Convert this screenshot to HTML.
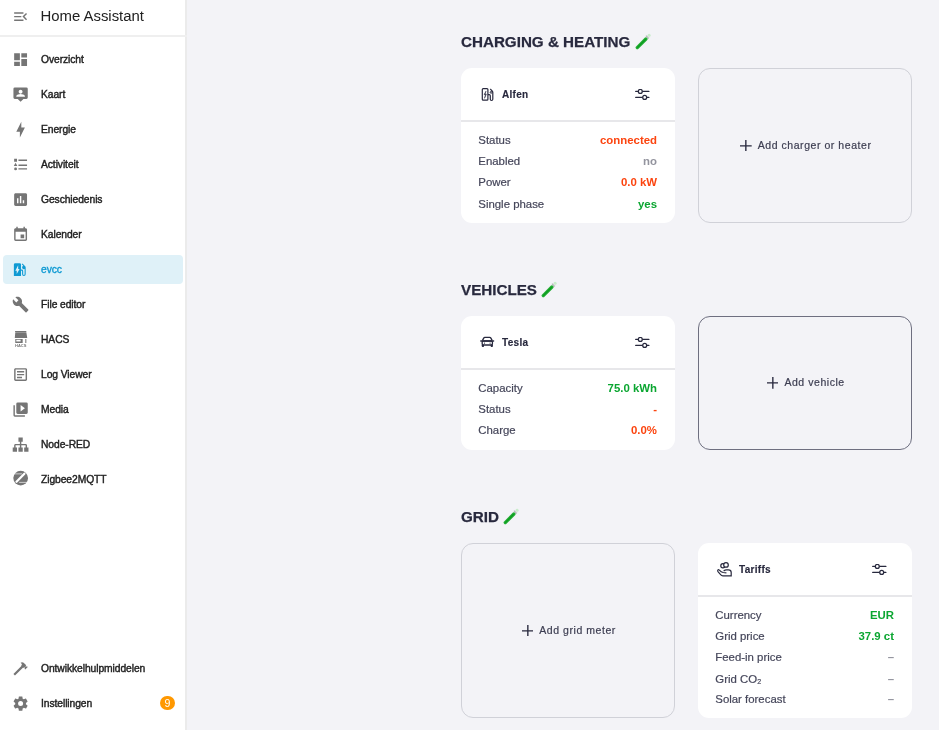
<!DOCTYPE html>
<html><head><meta charset="utf-8"><title>evcc - Home Assistant</title>
<style>
*{box-sizing:border-box;margin:0;padding:0}
html,body{width:939px;height:730px;overflow:hidden;background:#f3f3f7;font-family:"Liberation Sans",Arial,sans-serif}
#sb{position:absolute;left:0;top:0;width:187px;height:730px;background:#fff;border-right:2px solid #ebebeb}
#hdr{position:absolute;left:0;top:0;width:187px;height:37px;border-bottom:2px solid #efefef}
#hdr .t{position:absolute;left:40.5px;top:6px;font-size:14.9px;line-height:20px;color:#212121;white-space:nowrap}
.mi{position:absolute;left:0;width:185px;height:28px}
.mi svg{position:absolute;left:11.7px;top:5.4px;width:17.2px;height:17.2px;fill:#757575}
.mi span{position:absolute;left:41px;top:7.75px;font-size:10.3px;letter-spacing:-0.08px;line-height:14px;color:#222;white-space:nowrap;-webkit-text-stroke:0.4px #222}
.mi.sel{left:3px;width:180px;background:#dff1f8;border-radius:4px}
.mi.sel svg{left:8.2px;top:6.4px;fill:#0f9ad3}
.mi.sel span{left:38px;top:8.2px;color:#0f9ad3;-webkit-text-stroke:0.35px #0f9ad3}
.badge{position:absolute;left:160px;top:695.6px;width:14.8px;height:14.8px;border-radius:50%;background:#ff9800;color:#fff;font-size:10.6px;line-height:15px;text-align:center}

.h{position:absolute;left:461px;font-size:15.2px;font-weight:bold;color:#28293e;white-space:nowrap;line-height:18px;-webkit-text-stroke:0.25px #28293e}
.tube{position:absolute;top:0px;margin-left:4.8px}
.card{position:absolute;background:#fff;border-radius:11px;width:214px}
.card .ch{position:absolute;left:0;top:0;width:100%;height:54px !important;border-bottom:2px solid #e7e7ea}
.card .ico{position:absolute;left:19px;width:14px;height:14px}
.card .nm{position:absolute;left:41px;font-size:10px;letter-spacing:0.3px;font-weight:bold;color:#28293e;line-height:14px;-webkit-text-stroke:0.15px #28293e}
.card .sl{position:absolute;left:174px;width:15px;height:12px}
.row{position:absolute;left:17.3px;right:18px;height:14px;font-size:11.4px;line-height:14px;color:#45465a;-webkit-text-stroke:0.2px #45465a}
.row b{-webkit-text-stroke:0}
.row b{position:absolute;right:0;top:0;font-weight:bold}
.red{color:#fc440f}.grn{color:#0ba631}.gry{color:#93949e}
.add{position:absolute;border:1px solid #d0d1d8;border-radius:12px;width:214px}
.add.dk{border-color:#6e6f80}
.add .lbl{position:absolute;left:1.5px;right:0;top:50%;margin-top:-8.8px;text-align:center;font-size:10.5px;letter-spacing:0.55px;line-height:16px;color:#3c3d51;white-space:nowrap;-webkit-text-stroke:0.2px #3c3d51}
.add .lbl svg{display:inline-block;vertical-align:top;margin-top:2.8px;margin-right:6px;width:11.7px;height:11.7px}
</style></head><body>
<div id="sb">
  <div id="hdr">
    <svg style="position:absolute;left:11.8px;top:7.9px;width:17.2px;height:17.2px;fill:#757575" viewBox="0 0 24 24"><path d="M21,15.61L19.59,17L14.58,12L19.59,7L21,8.39L17.44,12L21,15.61M3,6H16V8H3V6M3,13V11H13V13H3M3,18V16H16V18H3Z"/></svg>
    <div class="t">Home Assistant</div>
  </div>
  <!-- items -->
  <div class="mi" style="top:45.5px"><svg viewBox="0 0 24 24"><path d="M13,3V9H21V3M13,21H21V11H13M3,21H11V15H3M3,13H11V3H3V13Z"/></svg><span>Overzicht</span></div>
  <div class="mi" style="top:80.5px"><svg viewBox="0 0 24 24"><path d="M20,2H4A2,2 0 0,0 2,4V16A2,2 0 0,0 4,18H8L12,22L16,18H20A2,2 0 0,0 22,16V4A2,2 0 0,0 20,2M12,5.3C13.5,5.3 14.7,6.5 14.7,8C14.7,9.5 13.5,10.7 12,10.7C10.5,10.7 9.3,9.5 9.3,8C9.3,6.5 10.5,5.3 12,5.3M18,15H6V14.1C6,12.1 10,11 12,11C14,11 18,12.1 18,14.1V15Z"/></svg><span>Kaart</span></div>
  <div class="mi" style="top:115.5px"><svg viewBox="0 0 24 24"><path d="M11 15H6L13 1V9H18L11 23V15Z"/></svg><span>Energie</span></div>
  <div class="mi" style="top:150.5px"><svg viewBox="0 0 24 24"><path d="M5,9.5L7.5,14H2.5L5,9.5M3,4H7V8H3V4M5,20A2,2 0 0,0 7,18A2,2 0 0,0 5,16A2,2 0 0,0 3,18A2,2 0 0,0 5,20M9,5V7H21V5H9M9,19H21V17H9V19M9,14H21V12H9V14Z"/></svg><span>Activiteit</span></div>
  <div class="mi" style="top:185.5px"><svg viewBox="0 0 24 24"><path d="M9 17H7V10H9V17M13 17H11V7H13V17M17 17H15V13H17V17M19 3H5C3.9 3 3 3.9 3 5V19C3 20.1 3.9 21 5 21H19C20.1 21 21 20.1 21 19V5C21 3.9 20.1 3 19 3Z"/></svg><span>Geschiedenis</span></div>
  <div class="mi" style="top:220.5px"><svg viewBox="0 0 24 24"><path d="M19,19H5V8H19M16,1V3H8V1H6V3H5C3.89,3 3,3.89 3,5V19A2,2 0 0,0 5,21H19A2,2 0 0,0 21,19V5C21,3.89 20.1,3 19,3H18V1M17,12H12V17H17V12Z"/></svg><span>Kalender</span></div>
  <div class="mi sel" style="top:254.5px;height:29px"><svg viewBox="0 0 24 24"><path d="M19.77,7.23L19.78,7.22L16.06,3.5L15,4.56L17.11,6.67C16.17,7.03 15.5,7.93 15.5,9A2.5,2.5 0 0,0 18,11.5C18.36,11.5 18.69,11.42 19,11.29V18.5A1,1 0 0,1 18,19.5A1,1 0 0,1 17,18.5V14A2,2 0 0,0 15,12H14V5A2,2 0 0,0 12,3H6A2,2 0 0,0 4,5V21H14V13.5H15.5V18.5A2.5,2.5 0 0,0 18,21A2.5,2.5 0 0,0 20.5,18.5V9C20.5,8.31 20.22,7.68 19.77,7.23M8,18V13.5H6L10,6V11H12L8,18Z"/></svg><span>evcc</span></div>
  <div class="mi" style="top:290.5px"><svg viewBox="0 0 24 24"><path d="M22.7,19L13.6,9.9C14.5,7.6 14,4.9 12.1,3C10.1,1 7.1,0.6 4.7,1.7L9,6L6,9L1.6,4.7C0.4,7.1 0.9,10.1 2.9,12.1C4.8,14 7.5,14.5 9.8,13.6L18.9,22.7C19.3,23.1 19.9,23.1 20.3,22.7L22.6,20.4C23.1,20 23.1,19.3 22.7,19Z"/></svg><span>File editor</span></div>
  <div class="mi" style="top:325.5px"><svg viewBox="0 0 24 24"><path fill-rule="evenodd" d="M4.3,0H20V1.4H4.3Z M4.6,1.7H20L21.3,9.6H3.9Z M4.6,11H14.9V16.7H4.6Z M6,12.1V14.8H12V12.1Z M18.6,11H20V16.7H18.6Z"/><text x="12.1" y="22.2" font-size="5.3" font-weight="bold" text-anchor="middle" textLength="15.8" lengthAdjust="spacingAndGlyphs" font-family="Liberation Sans, sans-serif" fill="#757575">HACS</text></svg><span>HACS</span></div>
  <div class="mi" style="top:360.5px"><svg viewBox="0 0 24 24"><path d="M5,3C3.89,3 3,3.89 3,5V19C3,20.11 3.89,21 5,21H19C20.11,21 21,20.11 21,19V5C21,3.89 20.11,3 19,3H5M5,5H19V19H5V5M7,7V9H17V7H7M7,11V13H17V11H7M7,15V17H14V15H7Z"/></svg><span>Log Viewer</span></div>
  <div class="mi" style="top:395.5px"><svg viewBox="0 0 24 24"><path d="M4,6H2V20A2,2 0 0,0 4,22H18V20H4M20,2H8A2,2 0 0,0 6,4V16A2,2 0 0,0 8,18H20A2,2 0 0,0 22,16V4A2,2 0 0,0 20,2M12,14.5V5.5L18,10"/></svg><span>Media</span></div>
  <div class="mi" style="top:430.5px"><svg viewBox="0 0 24 24"><path d="M9,2V8H11V11H5C3.89,11 3,11.89 3,13V16H1V22H7V16H5V13H11V16H9V22H15V16H13V13H19V16H17V22H23V16H21V13C21,11.89 20.11,11 19,11H13V8H15V2H9Z"/></svg><span>Node-RED</span></div>
  <div class="mi" style="top:465px"><svg viewBox="0 0 24 24"><circle cx="12.1" cy="11.3" r="10.3"/><path d="M6.3,16.4 L17.3,5.3" stroke="#fff" stroke-width="3.2" stroke-linecap="round"/><path d="M1,5.4 H14 M10,17.3 H23" stroke="#fff" stroke-width="0.9"/></svg><span>Zigbee2MQTT</span></div>

  <div class="mi" style="top:654.5px"><svg viewBox="0 0 24 24"><path d="M2 19.63L13.43 8.2L12.72 7.5L14.14 6.07L12 3.89C13.2 2.7 15.09 2.7 16.27 3.89L19.87 7.5L18.45 8.91H21.29L22 9.62L18.45 13.21L17.74 12.5V9.62L16.27 11.04L15.56 10.33L4.13 21.76L2 19.63Z"/></svg><span>Ontwikkelhulpmiddelen</span></div>
  <div class="mi" style="top:689.5px"><svg viewBox="0 0 24 24"><path d="M12,15.5A3.5,3.5 0 0,1 8.5,12A3.5,3.5 0 0,1 12,8.5A3.5,3.5 0 0,1 15.5,12A3.5,3.5 0 0,1 12,15.5M19.43,12.97C19.47,12.65 19.5,12.33 19.5,12C19.5,11.67 19.47,11.34 19.43,11L21.54,9.37C21.73,9.22 21.78,8.95 21.66,8.73L19.66,5.27C19.54,5.05 19.27,4.96 19.050,5.05L16.56,6.05C16.04,5.66 15.5,5.32 14.87,5.07L14.5,2.42C14.46,2.18 14.25,2 14,2H10C9.75,2 9.54,2.18 9.5,2.42L9.13,5.07C8.5,5.32 7.96,5.66 7.44,6.05L4.95,5.05C4.73,4.96 4.46,5.05 4.34,5.27L2.34,8.73C2.21,8.95 2.27,9.22 2.46,9.37L4.57,11C4.53,11.34 4.5,11.67 4.5,12C4.5,12.33 4.53,12.65 4.57,12.97L2.46,14.63C2.27,14.78 2.21,15.05 2.34,15.27L4.34,18.73C4.46,18.95 4.73,19.03 4.95,18.95L7.44,17.94C7.96,18.34 8.5,18.68 9.13,18.93L9.5,21.58C9.54,21.82 9.75,22 10,22H14C14.25,22 14.46,21.82 14.5,21.58L14.87,18.93C15.5,18.67 16.04,18.34 16.56,17.94L19.05,18.95C19.27,19.03 19.54,18.95 19.66,18.73L21.66,15.27C21.78,15.05 21.73,14.78 21.54,14.63L19.43,12.97Z"/></svg><span>Instellingen</span></div>
  <div class="badge">9</div>
</div>


<div class="h" style="top:32.7px">CHARGING &amp; HEATING <svg class="tube" width="16" height="17" viewBox="0 0 16 17"><path d="M2.3,14.6 L13.2,3.7" stroke="#ececef" stroke-width="4" stroke-linecap="round"/><path d="M2.3,14.6 L10.9,6" stroke="#1fae31" stroke-width="3.3" stroke-linecap="round"/><path d="M2.6,14.3 L10.4,6.5" stroke="#0f9c22" stroke-width="1.3" stroke-linecap="round"/><path d="M11.3,3 L13.4,5.1" stroke="#b4b4b8" stroke-width="1.1" stroke-linecap="round"/><circle cx="14.1" cy="2.3" r="1.5" fill="#c9eccb"/></svg></div>

<div class="card" style="left:461px;top:68px;height:155px">
  <div class="ch" style="height:53.5px"></div>
  <svg class="ico" style="top:17px;left:17px;width:20px;height:20px" viewBox="0 0 20 20" fill="none" stroke="#28293e" stroke-width="1.2"><rect x="4.3" y="3.6" width="5.6" height="11.6" rx="0.9"/><path d="M8,6.1 L6.1,9.7 L7.5,9.6 L6.5,13.3 L8.4,9.1 L7.0,9.2 Z" fill="#28293e" stroke-width="0.5"/><path d="M9.9,9.7 H11.2 C11.9,9.7 12.3,10.1 12.3,10.8 V14.3 C12.3,15 12.8,15.5 13.5,15.5 C14.2,15.5 14.8,15 14.8,14.3 V7.3 C14.8,6.7 14.5,6.2 14,5.8 L12.3,4"/><circle cx="13.1" cy="7.4" r="0.9" stroke-width="1"/></svg>
  <div class="nm" style="top:19.5px">Alfen</div>
  <svg class="sl" style="top:21px;left:174.1px" viewBox="0 0 15 12" fill="none" stroke="#28293e" stroke-width="1.25" stroke-linecap="round"><path d="M0.7,2.4H13.9M0.7,8.4H13.9"/><circle cx="5.3" cy="2.4" r="1.95" fill="#fff"/><circle cx="9.7" cy="8.4" r="1.95" fill="#fff"/></svg>
  <div class="row" style="top:65.25px">Status<b class="red">connected</b></div>
  <div class="row" style="top:86.35px">Enabled<b class="gry">no</b></div>
  <div class="row" style="top:107.45px">Power<b class="red">0.0 kW</b></div>
  <div class="row" style="top:128.55px">Single phase<b class="grn">yes</b></div>
</div>
<div class="add" style="left:698px;top:68px;height:155px"><div class="lbl"><svg viewBox="0 0 12 12"><path d="M6,0V12M0,6H12" stroke="#28293e" stroke-width="1.4"/></svg>Add charger or heater</div></div>

<div class="h" style="top:281px">VEHICLES <svg class="tube" style="margin-left:3.7px;top:-0.4px" width="16" height="17" viewBox="0 0 16 17"><path d="M2.3,14.6 L13.2,3.7" stroke="#ececef" stroke-width="4" stroke-linecap="round"/><path d="M2.3,14.6 L10.9,6" stroke="#1fae31" stroke-width="3.3" stroke-linecap="round"/><path d="M2.6,14.3 L10.4,6.5" stroke="#0f9c22" stroke-width="1.3" stroke-linecap="round"/><path d="M11.3,3 L13.4,5.1" stroke="#b4b4b8" stroke-width="1.1" stroke-linecap="round"/><circle cx="14.1" cy="2.3" r="1.5" fill="#c9eccb"/></svg></div>

<div class="card" style="left:461px;top:316px;height:134px">
  <div class="ch" style="height:53px"></div>
  <svg class="ico" style="top:16px;left:15px;width:22px;height:20px" viewBox="0 0 22 20" fill="none" stroke="#28293e" stroke-width="1.3"><path d="M6.5,8.4 L7.7,6.1 Q8.1,5.4 8.9,5.4 H13.7 Q14.5,5.4 14.9,6.1 L16.1,8.4"/><rect x="4.1" y="8.2" width="14.2" height="1.5" rx="0.7" fill="#28293e" stroke="none"/><rect x="6.2" y="9" width="10.2" height="4" rx="0.9"/><circle cx="8.5" cy="11.1" r="0.65" fill="#28293e" stroke="none"/><circle cx="14.1" cy="11.1" r="0.65" fill="#28293e" stroke="none"/><rect x="5.8" y="12.6" width="2.2" height="2.3" rx="0.7" fill="#28293e" stroke="none"/><rect x="14.7" y="12.6" width="2.2" height="2.3" rx="0.7" fill="#28293e" stroke="none"/></svg>
  <div class="nm" style="top:19.5px">Tesla</div>
  <svg class="sl" style="top:21px;left:174.1px" viewBox="0 0 15 12" fill="none" stroke="#28293e" stroke-width="1.25" stroke-linecap="round"><path d="M0.7,2.4H13.9M0.7,8.4H13.9"/><circle cx="5.3" cy="2.4" r="1.95" fill="#fff"/><circle cx="9.7" cy="8.4" r="1.95" fill="#fff"/></svg>
  <div class="row" style="top:65.2px">Capacity<b class="grn">75.0 kWh</b></div>
  <div class="row" style="top:86.3px">Status<b class="red">-</b></div>
  <div class="row" style="top:107.4px">Charge<b class="red">0.0%</b></div>
</div>
<div class="add dk" style="left:698px;top:316px;height:134px"><div class="lbl"><svg viewBox="0 0 12 12"><path d="M6,0V12M0,6H12" stroke="#28293e" stroke-width="1.4"/></svg>Add vehicle</div></div>

<div class="h" style="top:508px">GRID <svg class="tube" style="margin-left:4.3px;top:-0.5px" width="16" height="17" viewBox="0 0 16 17"><path d="M2.3,14.6 L13.2,3.7" stroke="#ececef" stroke-width="4" stroke-linecap="round"/><path d="M2.3,14.6 L10.9,6" stroke="#1fae31" stroke-width="3.3" stroke-linecap="round"/><path d="M2.6,14.3 L10.4,6.5" stroke="#0f9c22" stroke-width="1.3" stroke-linecap="round"/><path d="M11.3,3 L13.4,5.1" stroke="#b4b4b8" stroke-width="1.1" stroke-linecap="round"/><circle cx="14.1" cy="2.3" r="1.5" fill="#c9eccb"/></svg></div>

<div class="add" style="left:461px;top:543px;height:175px"><div class="lbl"><svg viewBox="0 0 12 12"><path d="M6,0V12M0,6H12" stroke="#28293e" stroke-width="1.4"/></svg>Add grid meter</div></div>
<div class="card" style="left:698px;top:543px;height:175px">
  <div class="ch" style="height:52.5px"></div>
  <svg class="ico" style="top:15px;left:15px;width:24px;height:22px" viewBox="0 0 24 22" fill="none" stroke="#28293e" stroke-width="1.2"><circle cx="9.9" cy="7.7" r="2.1"/><circle cx="13" cy="6.9" r="2.3" fill="#fff"/><path d="M6.1,11.9 C7.4,13.4 8.6,14.3 10.2,14.5 L13.4,14.8"/><path d="M6.1,11.9 C5.5,11.4 4.6,11.9 4.7,12.8 C4.8,13.3 5.1,13.7 5.4,14.1 L7.6,16.7 C8.2,17.4 8.9,17.8 9.9,17.8 H18.2 V14.4 C18.2,12.9 17,11.8 15.4,11.8 H13.4 C12.3,11.8 11.4,12.3 10.6,12.9"/></svg>
  <div class="nm" style="top:19.5px">Tariffs</div>
  <svg class="sl" style="top:21px;left:174.1px" viewBox="0 0 15 12" fill="none" stroke="#28293e" stroke-width="1.25" stroke-linecap="round"><path d="M0.7,2.4H13.9M0.7,8.4H13.9"/><circle cx="5.3" cy="2.4" r="1.95" fill="#fff"/><circle cx="9.7" cy="8.4" r="1.95" fill="#fff"/></svg>
  <div class="row" style="top:65.25px">Currency<b class="grn">EUR</b></div>
  <div class="row" style="top:86.35px">Grid price<b class="grn">37.9 ct</b></div>
  <div class="row" style="top:107.45px">Feed-in price<b class="gry">&ndash;</b></div>
  <div class="row" style="top:128.55px">Grid CO&#8322;<b class="gry">&ndash;</b></div>
  <div class="row" style="top:149.2px">Solar forecast<b class="gry">&ndash;</b></div>
</div>

</body></html>
